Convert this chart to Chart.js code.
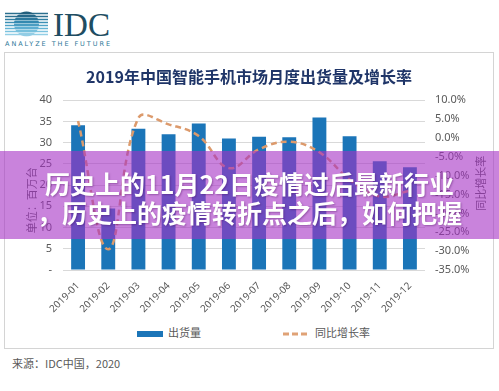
<!DOCTYPE html>
<html>
<head>
<meta charset="utf-8">
<script src="https://cdn.jsdelivr.net/npm/chart.js@4.4.1/dist/chart.umd.min.js"></script>
<style>
html, body { margin: 0; padding: 0; background: #fff; }
body { width: 499px; height: 391px; position: relative; overflow: hidden; font-family: 'Noto Sans CJK SC', 'Noto Sans', sans-serif; }
#logo { position: absolute; left: 0; top: 0; }
#frame { position: absolute; left: 4px; top: 52px; width: 490px; height: 297px; box-sizing: border-box; border: 1px solid #d4d4d4; }
#chartBox { position: absolute; left: 6px; top: 53px; width: 486px; height: 270px; }
.leg { position: absolute; top: 324px; font-size: 11px; color: #595959; line-height: 16px; white-space: nowrap; }
#source { position: absolute; left: 12px; top: 355px; font-size: 11px; color: #595959; }
#banner { position: absolute; left: 0; top: 151px; width: 499px; height: 88px; background: rgba(165, 48, 196, 0.6); }
#banner div { position: absolute; left: 0; width: 499px; text-align: center; color: #fff; font-weight: bold; font-size: 25px; line-height: 29px; white-space: nowrap; text-shadow: 1px 1px 2px rgba(60, 0, 80, 0.35); }
</style>
</head>
<body>

<svg id="logo" width="130" height="50">
  <g stroke-width="1.3">
    <line x1="5" y1="13.5" x2="48" y2="13.5" stroke="#2b6f8e"/>
    <line x1="5" y1="16.5" x2="48" y2="16.5" stroke="#2b6f8e"/>
    <line x1="5" y1="19.5" x2="48" y2="19.5" stroke="#2f7fa3"/>
    <line x1="5" y1="22.5" x2="48" y2="22.5" stroke="#3b8fb4"/>
    <line x1="5" y1="25.5" x2="48" y2="25.5" stroke="#4fa2c6"/>
    <line x1="5" y1="28.5" x2="48" y2="28.5" stroke="#62b3d4"/>
    <line x1="5" y1="31.5" x2="48" y2="31.5" stroke="#7bc2de"/>
    <line x1="5" y1="34.5" x2="48" y2="34.5" stroke="#93cfe6"/>
  </g>
  <clipPath id="globe"><circle cx="26.5" cy="24" r="12.5"/></clipPath>
  <g clip-path="url(#globe)">
    <rect x="12" y="11" width="30" height="3" fill="#235f7c"/>
    <rect x="12" y="14.6" width="30" height="2.4" fill="#27698a"/>
    <rect x="12" y="17.6" width="30" height="2.4" fill="#2c789c"/>
    <rect x="12" y="20.6" width="30" height="2.4" fill="#3489b0"/>
    <rect x="12" y="23.6" width="30" height="2.4" fill="#4a9dc2"/>
    <rect x="12" y="26.6" width="30" height="2.4" fill="#5eaed1"/>
    <rect x="12" y="29.6" width="30" height="2.4" fill="#78c0dc"/>
    <rect x="12" y="32.6" width="30" height="4" fill="#92cde5"/>
  </g>
  <text x="53" y="36" font-family="Liberation Serif" font-size="34" fill="#1e4d62" textLength="57" lengthAdjust="spacingAndGlyphs">IDC</text>
  <text x="5" y="46" font-family="DejaVu Sans" font-size="6.5" fill="#2b7798" textLength="105" lengthAdjust="spacing">ANALYZE THE FUTURE</text>
</svg>

<div id="frame"></div>
<div id="chartBox"><canvas id="myChart" width="486" height="270"></canvas></div>

<div class="leg" style="left:137px;"><span style="display:inline-block;width:26px;height:6px;background:#1b75b8;vertical-align:middle;margin-right:5px;"></span>出货量</div>
<div class="leg" style="left:283px;"><svg width="27" height="6" style="vertical-align:middle;margin-right:5px;"><line x1="0" y1="3" x2="27" y2="3" stroke="#e0a276" stroke-width="3" stroke-dasharray="6 3"/></svg>同比增长率</div>

<div id="source">来源：IDC中国，2020</div>

<div id="banner">
  <div style="top:18px;">历史上的11月22日疫情过后最新行业</div>
  <div style="top:47px;">，历史上的疫情转折点之后，如何把握</div>
</div>

<script>
// 2019 monthly shipments (million units) and y/y growth (%)
var months = ['2019-01', '2019-02', '2019-03', '2019-04', '2019-05', '2019-06',
              '2019-07', '2019-08', '2019-09', '2019-10', '2019-11', '2019-12'];
var shipments = [34.1, 14.5, 33.3, 32.0, 34.5, 31.0, 31.4, 31.3, 35.9, 31.5, 25.6, 24.2];
var growth = [4.5, -29.5, 5.3, 3.6, 0.5, -8.0, -3.0, -1.0, -3.8, -11.0, -15.5, -14.0];

var BLUE = '#1b75b8';
var ORANGE = '#dc9a6c';
var GREY = '#595959';

// axis titles drawn reading bottom-to-top, like the excel original
var axisTitles = {
    id: 'axisTitles',
    afterDraw: function(chart) {
        var ctx = chart.ctx;
        var area = chart.chartArea;
        ctx.save();
        ctx.fillStyle = GREY;
        ctx.font = '11px "Noto Sans CJK SC"';
        ctx.textAlign = 'center';
        ctx.textBaseline = 'middle';

        ctx.save();
        ctx.translate(area.left - 31, area.top + 100);
        ctx.rotate(-Math.PI / 2);
        ctx.fillText('单位：百万台', 0, 0);
        ctx.restore();

        ctx.save();
        ctx.translate(area.right + 56, area.top + 83);
        ctx.rotate(-Math.PI / 2);
        ctx.fillText('同比增长率', 0, 0);
        ctx.restore();

        ctx.restore();
    }
};

var graphData = {
    type: 'bar',
    data: {
        labels: months,
        datasets: [{
            type: 'line',
            label: '同比增长率',
            data: growth,
            yAxisID: 'y1',
            borderColor: ORANGE,
            backgroundColor: 'transparent',
            borderWidth: 2.5,
            borderDash: [6, 4],
            pointRadius: 0,
            tension: 0.4,
            order: 0
        },
        {
            label: '出货量',
            data: shipments,
            yAxisID: 'y',
            backgroundColor: BLUE,
            barPercentage: 0.46,
            categoryPercentage: 1,
            order: 1
        }]
    },
    options: {
        responsive: false,
        animation: false,
        devicePixelRatio: 1,
        layout: { padding: 0 },
        plugins: {
            legend: { display: false },
            tooltip: { enabled: false },
            title: {
                display: true,
                text: '2019年中国智能手机市场月度出货量及增长率',
                color: '#1f3568',
                font: { family: 'Noto Sans CJK SC', size: 16, weight: 'bold' },
                padding: { top: 14, bottom: 14 }
            }
        },
        scales: {
            x: {
                grid: { display: false },
                border: { display: false },
                ticks: {
                    color: GREY,
                    font: { family: 'Noto Sans', size: 10 },
                    maxRotation: 45,
                    minRotation: 45,
                    padding: 2
                },
                afterFit: function(scale) { scale.height = 53; }
            },
            y: {
                position: 'left',
                min: 0,
                max: 40,
                grid: { color: '#d9d9d9', drawTicks: false },
                border: { display: false },
                ticks: {
                    stepSize: 5,
                    padding: 11,
                    color: GREY,
                    font: { family: 'Noto Sans', size: 11 },
                    callback: function(value) {
                        return value === 0 ? '-' : value;
                    }
                },
                afterFit: function(scale) { scale.width = 57; }
            },
            y1: {
                position: 'right',
                min: -35,
                max: 10,
                grid: { display: false, drawTicks: false },
                border: { display: false },
                ticks: {
                    stepSize: 5,
                    padding: 10,
                    color: GREY,
                    font: { family: 'Noto Sans', size: 11 },
                    callback: function(value) {
                        return value.toFixed(1) + '%';
                    }
                },
                afterFit: function(scale) { scale.width = 67; }
            }
        }
    },
    plugins: [axisTitles]
};

var ctx = document.getElementById('myChart').getContext('2d');
var myChart = new Chart(ctx, graphData);
</script>
</body>
</html>
